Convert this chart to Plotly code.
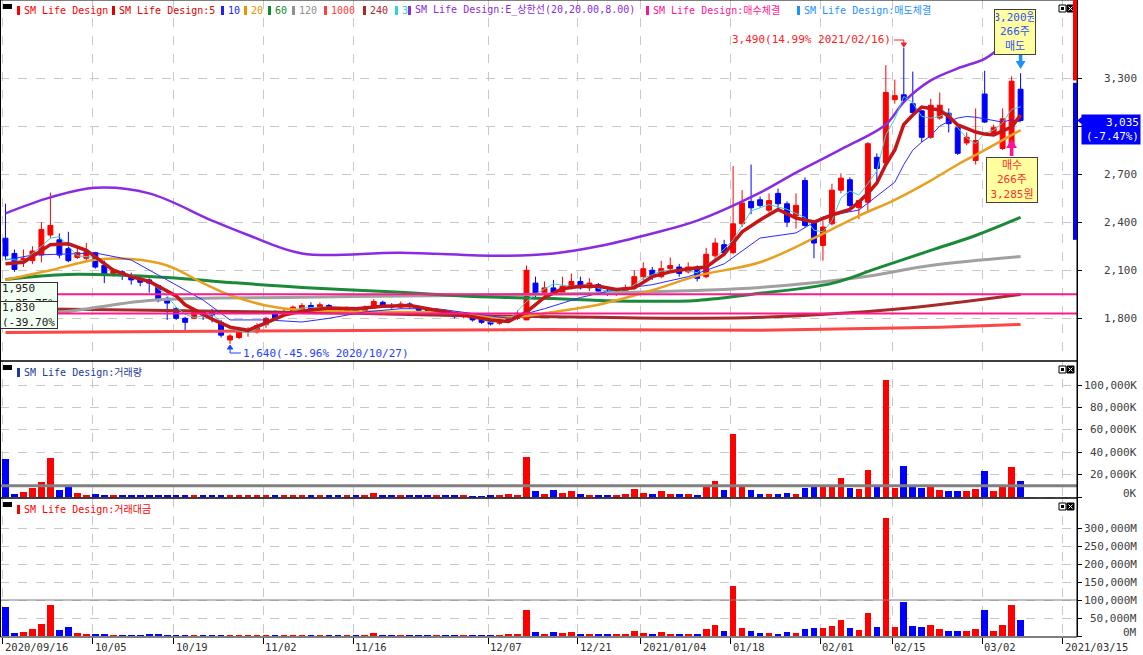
import plotly.graph_objects as go

# ---------------- DATA ----------------
dates = [
    "2020/09/16", "2020/09/17", "2020/09/18", "2020/09/21", "2020/09/22", "2020/09/23", "2020/09/24", "2020/09/25", "2020/09/28", "2020/09/29",
    "2020/10/05", "2020/10/06", "2020/10/07", "2020/10/08", "2020/10/12", "2020/10/13", "2020/10/14", "2020/10/15", "2020/10/16", "2020/10/19",
    "2020/10/20", "2020/10/21", "2020/10/22", "2020/10/23", "2020/10/26", "2020/10/27", "2020/10/28", "2020/10/29", "2020/10/30",
    "2020/11/02", "2020/11/03", "2020/11/04", "2020/11/05", "2020/11/06", "2020/11/09", "2020/11/10", "2020/11/11", "2020/11/12", "2020/11/13",
    "2020/11/16", "2020/11/17", "2020/11/18", "2020/11/19", "2020/11/20", "2020/11/23", "2020/11/24", "2020/11/25", "2020/11/26", "2020/11/27", "2020/11/30",
    "2020/12/01", "2020/12/02", "2020/12/03", "2020/12/04", "2020/12/07", "2020/12/08", "2020/12/09", "2020/12/10", "2020/12/11", "2020/12/14",
    "2020/12/15", "2020/12/16", "2020/12/17", "2020/12/18", "2020/12/21", "2020/12/22", "2020/12/23", "2020/12/24", "2020/12/28", "2020/12/29", "2020/12/30",
    "2021/01/04", "2021/01/05", "2021/01/06", "2021/01/07", "2021/01/08", "2021/01/11", "2021/01/12", "2021/01/13", "2021/01/14", "2021/01/15",
    "2021/01/18", "2021/01/19", "2021/01/20", "2021/01/21", "2021/01/22", "2021/01/25", "2021/01/26", "2021/01/27", "2021/01/28", "2021/01/29",
    "2021/02/01", "2021/02/02", "2021/02/03", "2021/02/04", "2021/02/05", "2021/02/08", "2021/02/09", "2021/02/10", "2021/02/15", "2021/02/16",
    "2021/02/17", "2021/02/18", "2021/02/19", "2021/02/22", "2021/02/23", "2021/02/24", "2021/02/25", "2021/02/26",
    "2021/03/02", "2021/03/03", "2021/03/04", "2021/03/05", "2021/03/08",
]
future_dates = ["2021/03/09", "2021/03/10", "2021/03/11", "2021/03/12", "2021/03/15"]

opens = [2300, 2205, 2150, 2160, 2195, 2320, 2290, 2235, 2180, 2175,
         2210, 2130, 2080, 2090, 2060, 2050, 2040, 2005, 1925, 1860,
         1800, 1800, 1840, 1840, 1775, 1665, 1680, 1715, 1715, 1760,
         1840, 1835, 1845, 1850, 1880, 1860, 1880, 1860, 1845, 1860,
         1840, 1865, 1900, 1880, 1870, 1890, 1870, 1850, 1830, 1845,
         1825, 1810, 1815, 1795, 1780, 1770, 1790, 1800, 1790, 2020,
         1950, 1990, 1960, 1990, 2030, 1990, 2010, 1970, 1950, 1960,
         1990, 2060, 2100, 2060, 2110, 2120, 2090, 2120, 2060, 2190,
         2260, 2210, 2390, 2530, 2540, 2475, 2580, 2515, 2440, 2660,
         2400, 2255, 2390, 2600, 2665, 2490, 2525, 2805, 2770, 3165,
         3195, 3140, 3095, 2930, 3050, 3080, 2990, 2895, 2785, 3200,
         2955, 2860, 2880, 3230]
highs = [2515, 2230, 2230, 2250, 2400, 2585, 2330, 2340, 2240, 2270,
         2215, 2160, 2110, 2100, 2085, 2060, 2050, 2010, 1935, 1870,
         1810, 1850, 1845, 1860, 1790, 1700, 1730, 1745, 1770, 1810,
         1850, 1860, 1880, 1895, 1900, 1900, 1890, 1870, 1875, 1870,
         1880, 1920, 1910, 1895, 1905, 1900, 1880, 1860, 1860, 1855,
         1835, 1830, 1825, 1800, 1790, 1800, 1820, 1850, 2130, 2060,
         2030, 2040, 2060, 2080, 2060, 2050, 2020, 1990, 1990, 2010,
         2100, 2150, 2120, 2160, 2180, 2140, 2150, 2130, 2240, 2300,
         2290, 2750, 2600, 2760, 2560, 2580, 2610, 2530, 2580, 2680,
         2410, 2410, 2640, 2705, 2680, 2540, 2900, 2830, 3380, 3290,
         3490, 3340, 3100, 3170, 3210, 3110, 3000, 2960, 3110, 3345,
         3010, 3110, 3310, 3330]
lows = [2165, 2090, 2120, 2140, 2150, 2300, 2175, 2150, 2170, 2160,
        2110, 2020, 2060, 2040, 2010, 2000, 1960, 1900, 1790, 1790,
        1725, 1795, 1790, 1775, 1680, 1640, 1670, 1685, 1705, 1740,
        1795, 1820, 1830, 1840, 1850, 1850, 1845, 1835, 1840, 1830,
        1835, 1860, 1870, 1860, 1860, 1860, 1840, 1820, 1820, 1815,
        1800, 1800, 1780, 1765, 1755, 1760, 1780, 1790, 1790, 1920,
        1930, 1950, 1950, 1980, 1980, 1970, 1950, 1940, 1940, 1950,
        1980, 2040, 2040, 2050, 2090, 2060, 2080, 2030, 2050, 2170,
        2190, 2200, 2370, 2450, 2490, 2460, 2490, 2370, 2360, 2370,
        2175, 2160, 2380, 2580, 2490, 2420, 2460, 2640, 2750, 3140,
        3150, 3075, 2900, 2920, 3040, 2960, 2820, 2880, 2760, 3020,
        2940, 2850, 2860, 3030]
closes = [2190, 2105, 2175, 2220, 2355, 2380, 2195, 2160, 2210, 2215,
          2120, 2075, 2095, 2070, 2040, 2025, 2020, 1910, 1895, 1800,
          1775, 1840, 1820, 1820, 1695, 1690, 1715, 1725, 1755, 1800,
          1800, 1840, 1870, 1880, 1860, 1885, 1855, 1845, 1860, 1840,
          1870, 1905, 1880, 1870, 1890, 1875, 1850, 1830, 1845, 1825,
          1810, 1820, 1790, 1775, 1765, 1790, 1800, 1820, 2100, 1950,
          1990, 1960, 2000, 2030, 1990, 2020, 1970, 1950, 1970, 1990,
          2060, 2110, 2060, 2110, 2130, 2080, 2120, 2050, 2200, 2270,
          2210, 2390, 2520, 2490, 2505, 2535, 2515, 2400, 2505, 2380,
          2270, 2370, 2600, 2675, 2505, 2535, 2890, 2735, 3210, 3190,
          3160, 3085, 2930, 3130, 3130, 3015, 2830, 2930, 2910, 3025,
          2990, 3045, 3280, 3035]

volume_k = [34000, 2700, 4500, 8000, 13400, 34800, 6200, 9800, 3600, 1800,
            2700, 1800, 1200, 1200, 1200, 1200, 1500, 1500, 1300, 900,
            1200, 1400, 1100, 1100, 1300, 1200, 1200, 1100, 1200, 1300,
            1100, 900, 1200, 1000, 1000, 1100, 1100, 1000, 1000, 900,
            1200, 4000, 1300, 1000, 1000, 900, 1000, 900, 1200, 1000,
            900, 900, 800, 800, 1000, 1200, 2500, 2000, 36000, 5000,
            3000, 6000, 3500, 5000, 3000, 2000, 1500, 1500, 2000, 3000,
            7000, 3500, 3000, 5000, 3000, 2500, 2500, 2000, 9000, 14000,
            6000, 56000, 9000, 6000, 3000, 3000, 2500, 4000, 3000, 8000,
            9000, 10000, 11000, 17000, 8000, 7000, 24000, 9000, 104500, 8000,
            28000, 9000, 8000, 10000, 6000, 5000, 5000, 5000, 7000, 23000,
            5000, 10000, 27000, 14000]
amount_m = [80500, 8300, 11000, 19400, 33000, 86000, 16700, 25000, 9000, 5500,
            6000, 4000, 2500, 2500, 2500, 2500, 3000, 3000, 2500, 1700,
            2200, 2500, 2000, 2000, 2200, 2000, 2000, 1900, 2100, 2300,
            2000, 1700, 2200, 1900, 1900, 2000, 2000, 1900, 1900, 1700,
            2200, 7500, 2400, 1900, 1900, 1700, 1900, 1700, 2200, 1800,
            1600, 1600, 1400, 1400, 1800, 2100, 4500, 3600, 72000, 10000,
            6000, 12000, 7000, 10000, 6000, 4000, 3000, 3000, 4000, 6000,
            14500, 7400, 6200, 10500, 6400, 5200, 5300, 4200, 19000, 31000,
            13500, 140000, 22000, 15000, 7500, 7500, 6400, 10000, 7400, 20000,
            21000, 23000, 27000, 45000, 21000, 17500, 65000, 25000, 328000, 25000,
            95000, 28000, 24000, 30000, 19000, 15000, 14500, 14500, 20000, 72000,
            15000, 30000, 86000, 44000]

# moving averages: (candle index, value)
ma3_idx = [0, 2, 4, 5, 6, 8, 10, 12, 14, 16, 17, 18, 19, 20, 21, 23, 24, 25, 27, 29, 31, 33, 36, 39, 42, 45, 48, 51, 54, 56, 58, 59, 61, 63, 65, 67, 69, 71, 73, 75, 77, 79, 81, 83, 85, 87, 89, 90, 91, 92, 93, 94, 95, 96, 97, 98, 99, 100, 101, 102, 103, 104, 105, 106, 107, 108, 109, 110, 111, 112, 113]
ma3_val = [2170, 2160, 2250, 2300, 2310, 2190, 2180, 2095, 2070, 2030, 1985, 1940, 1870, 1825, 1805, 1825, 1780, 1735, 1710, 1760, 1815, 1865, 1870, 1850, 1880, 1880, 1840, 1830, 1775, 1785, 1905, 1950, 2015, 2000, 2010, 1965, 1970, 2050, 2095, 2105, 2085, 2175, 2290, 2470, 2510, 2480, 2430, 2350, 2340, 2410, 2550, 2595, 2570, 2640, 2720, 2945, 3045, 3185, 3145, 3060, 3050, 3060, 3090, 2990, 2925, 2890, 2955, 2975, 3020, 3105, 3120]
ma5_idx = [0, 2, 5, 7, 9, 12, 14, 16, 19, 20, 23, 25, 27, 29, 31, 33, 36, 39, 42, 45, 48, 51, 54, 56, 58, 60, 62, 64, 66, 68, 70, 72, 74, 76, 78, 80, 82, 84, 86, 88, 90, 92, 94, 95, 96, 97, 98, 99, 100, 101, 102, 103, 104, 105, 106, 107, 108, 109, 110, 111, 112, 113]
ma5_val = [2140, 2150, 2260, 2265, 2225, 2100, 2060, 2030, 1940, 1885, 1795, 1745, 1725, 1770, 1820, 1845, 1865, 1860, 1875, 1880, 1850, 1825, 1790, 1780, 1840, 1930, 1985, 2000, 2000, 1980, 1990, 2060, 2090, 2110, 2120, 2200, 2340, 2414, 2480, 2426, 2401, 2445, 2480, 2526, 2580, 2645, 2760, 2851, 3010, 3069, 3119, 3110, 3100, 3060, 3007, 2985, 2963, 2950, 2944, 2970, 2994, 3069]
ma10_idx = [0, 3, 7, 10, 14, 18, 22, 25, 29, 33, 36, 40, 44, 48, 52, 56, 60, 64, 68, 72, 76, 80, 84, 88, 91, 95, 99, 100, 101, 102, 103, 104, 105, 106, 107, 108, 109, 110, 111, 112, 113]
ma10_val = [2164, 2195, 2202, 2208, 2164, 2039, 1914, 1790, 1790, 1777, 1800, 1840, 1860, 1860, 1830, 1800, 1860, 1930, 1980, 2010, 2060, 2140, 2301, 2333, 2433, 2476, 2650, 2760, 2850, 2900, 2940, 3000, 3030, 3050, 3060, 3055, 3045, 3035, 3025, 3040, 3025]
ma20_idx = [0, 5, 10, 14, 18, 22, 25, 29, 31, 36, 44, 50, 55, 58, 61, 66, 72, 77, 84, 90, 95, 99, 103, 106, 109, 113]
ma20_val = [2040, 2100, 2165, 2170, 2130, 2020, 1945, 1880, 1862, 1845, 1840, 1835, 1805, 1815, 1840, 1885, 1975, 2065, 2150, 2300, 2440, 2540, 2660, 2760, 2850, 2975]
ma60_idx = [0, 7, 18, 25, 33, 44, 50, 55, 61, 66, 72, 77, 84, 92, 97, 103, 108, 113]
ma60_val = [2043, 2074, 2055, 2024, 1993, 1962, 1943, 1931, 1924, 1912, 1906, 1912, 1956, 2018, 2112, 2224, 2317, 2430]
ma120_idx = [0, 6, 16, 33, 50, 66, 77, 84, 95, 103, 113]
ma120_val = [1830, 1837, 1912, 1931, 1943, 1956, 1974, 1993, 2055, 2130, 2186]
ma240_idx = [0, 16, 33, 50, 66, 77, 84, 99, 113]
ma240_val = [1862, 1850, 1837, 1818, 1806, 1800, 1806, 1856, 1949]
ma1000_idx = [0, 30, 60, 84, 104, 113]
ma1000_val = [1712, 1720, 1730, 1725, 1744, 1762]
env_idx = [0, 5, 10, 16, 23, 27, 33, 44, 55, 61, 66, 72, 77, 84, 88, 93, 98, 100, 103, 106, 109, 111, 113]
env_val = [2455, 2555, 2615, 2580, 2410, 2320, 2205, 2210, 2190, 2205, 2250, 2330, 2410, 2585, 2710, 2855, 3010, 3150, 3285, 3360, 3420, 3500, 3575]

price_levels = [1950, 1830]
vol_ref_k = 10000
amount_ref_m = 100000
buy_price, sell_price, trade_qty = 3285, 3200, 266
buy_idx, sell_idx = 112, 113

tick_dates = ["2020/09/16", "2020/10/05", "2020/10/19", "2020/11/02", "2020/11/16", "2020/12/07",
              "2020/12/21", "2021/01/04", "2021/01/18", "2021/02/01", "2021/02/15", "2021/03/02", "2021/03/15"]
tick_labels = ["2020/09/16", "10/05", "10/19", "11/02", "11/16", "12/07",
               "12/21", "2021/01/04", "01/18", "02/01", "02/15", "03/02", "2021/03/15"]
price_ticks = [1800, 2100, 2400, 2700, 3000, 3300]
vol_ticks = [0, 20000, 40000, 60000, 80000, 100000]
amt_ticks = [0, 50000, 100000, 150000, 200000, 250000, 300000]

# ---------------- LAYOUT HELPERS ----------------
W, H = 1143, 655
PR = 1077  # right edge of plot area in px
FONT = "DejaVu Sans Mono, Noto Sans CJK KR, monospace"
RED, BLUE = "#ff0000", "#0000ff"

def fx(px):
    return px / W

def fy(py):
    return 1 - py / H

all_dates = dates + future_dates
xs = list(range(len(dates)))
tick_pos = [all_dates.index(d) - 0.28 for d in tick_dates]
XR = [-0.61, 119.28]

fig = go.Figure()

# candles
fig.add_trace(go.Candlestick(
    x=xs, open=opens, high=highs, low=lows, close=closes,
    increasing=dict(line=dict(color=RED, width=1), fillcolor=RED),
    decreasing=dict(line=dict(color=BLUE, width=1), fillcolor=BLUE),
    whiskerwidth=0, showlegend=False, hoverinfo="skip", xaxis="x", yaxis="y"))

def line(xv, yv, color, width, shape="linear"):
    fig.add_trace(go.Scatter(x=xv, y=yv, mode="lines", line=dict(color=color, width=width, shape=shape),
                             showlegend=False, hoverinfo="skip", xaxis="x", yaxis="y"))

line(ma1000_idx, ma1000_val, "#ff4646", 3)
line(ma240_idx, ma240_val, "#a52a2a", 3, "spline")
line(ma120_idx, ma120_val, "#a0a0a0", 3, "spline")
line(ma60_idx, ma60_val, "#1a8a3a", 3, "spline")
line(ma20_idx, ma20_val, "#e8a020", 2.5, "spline")
line(env_idx, env_val, "#8a2be2", 2.5, "spline")
line(ma10_idx, ma10_val, "#2b2bff", 1)
line(ma3_idx, ma3_val, "#3fd0d0", 1)
line(ma5_idx, ma5_val, "#c41616", 3.5)

for lv in price_levels:
    fig.add_trace(go.Scatter(x=XR, y=[lv, lv], mode="lines", line=dict(color="#ff1a8c", width=2),
                             showlegend=False, hoverinfo="skip", xaxis="x", yaxis="y"))

bar_colors = [RED if c >= o else BLUE for o, c in zip(opens, closes)]
fig.add_trace(go.Bar(x=xs, y=volume_k, marker=dict(color=bar_colors, line=dict(width=0)), width=0.74,
                     showlegend=False, hoverinfo="skip", xaxis="x2", yaxis="y2"))
fig.add_trace(go.Scatter(x=XR, y=[vol_ref_k, vol_ref_k], mode="lines", line=dict(color="#808080", width=3),
                         showlegend=False, hoverinfo="skip", xaxis="x2", yaxis="y2"))
fig.add_trace(go.Bar(x=xs, y=amount_m, marker=dict(color=bar_colors, line=dict(width=0)), width=0.74,
                     showlegend=False, hoverinfo="skip", xaxis="x3", yaxis="y3"))
fig.add_trace(go.Scatter(x=XR, y=[amount_ref_m, amount_ref_m], mode="lines", line=dict(color="#808080", width=1),
                         showlegend=False, hoverinfo="skip", xaxis="x3", yaxis="y3"))

# panels: px (top, bottom)
P_MAIN, P_VOL, P_AMT = (0, 361), (361, 498), (498, 637)
MAIN_R = [3787 - 6.242 * 361, 3787]
VOL_R = [-893, 893 * (497 - 361)]
AMT_R = [-2778, 2777.8 * (636 - 498)]

xcommon = dict(range=XR, tickvals=tick_pos, showticklabels=False, showgrid=True, griddash="dash",
               gridcolor="#c8c8c8", gridwidth=1, zeroline=False, domain=[0, fx(PR)], fixedrange=True)
ycommon = dict(side="right", showgrid=True, griddash="dash", gridcolor="#c8c8c8", gridwidth=1,
               zeroline=False, showline=True, linecolor="#000", linewidth=1, ticks="outside",
               ticklen=4, tickcolor="#000", showticklabels=False, fixedrange=True)

fig.update_layout(
    width=W, height=H, margin=dict(l=0, r=0, t=0, b=0),
    paper_bgcolor="white", plot_bgcolor="white", showlegend=False, bargap=0, boxgap=0.22,
    xaxis=dict(**xcommon, anchor="y", rangeslider=dict(visible=False)),
    xaxis2=dict(**xcommon, anchor="y2", matches="x"),
    xaxis3=dict(**xcommon, anchor="y3", matches="x", ticks="outside", ticklen=6, tickcolor="#000"),
    yaxis=dict(**ycommon, domain=[fy(P_MAIN[1]), fy(P_MAIN[0])], range=MAIN_R, tickvals=price_ticks, anchor="x"),
    yaxis2=dict(**ycommon, domain=[fy(P_VOL[1]), fy(P_VOL[0])], range=VOL_R, tickvals=vol_ticks, anchor="x2"),
    yaxis3=dict(**ycommon, domain=[fy(P_AMT[1]), fy(P_AMT[0])], range=AMT_R, tickvals=amt_ticks, anchor="x3"),
)

shapes = []
annotations = []

# panel frames
for top, bot in (P_MAIN, P_VOL, P_AMT):
    shapes.append(dict(type="rect", xref="paper", yref="paper", x0=fx(0.5), x1=fx(PR), y0=fy(bot), y1=fy(top),
                       line=dict(color="#000", width=1), layer="above"))
    shapes.append(dict(type="rect", xref="paper", yref="paper", x0=fx(3), x1=fx(12), y0=fy(top + 9), y1=fy(top + 4),
                       fillcolor="#000", line=dict(width=0)))
    shapes.append(dict(type="rect", xref="paper", yref="paper", x0=fx(1059), x1=fx(1066), y0=fy(top + 12), y1=fy(top + 5),
                       fillcolor="white", line=dict(color="#000", width=1)))
    shapes.append(dict(type="rect", xref="paper", yref="paper", x0=fx(1061), x1=fx(1064), y0=fy(top + 10), y1=fy(top + 7),
                       fillcolor="#000", line=dict(width=0)))
    shapes.append(dict(type="rect", xref="paper", yref="paper", x0=fx(1067), x1=fx(1074), y0=fy(top + 12), y1=fy(top + 5),
                       fillcolor="#000", line=dict(color="#000", width=1)))
    shapes.append(dict(type="path", xref="paper", yref="paper",
                       path=f"M {fx(1068.5)},{fy(top + 6.5)} L {fx(1072.5)},{fy(top + 10.5)} M {fx(1072.5)},{fy(top + 6.5)} L {fx(1068.5)},{fy(top + 10.5)}",
                       line=dict(color="white", width=1)))

# right-edge price bar
shapes.append(dict(type="rect", xref="paper", yref="y", x0=fx(1073), x1=fx(1077), y0=buy_price, y1=MAIN_R[1],
                   fillcolor="#ff0000", line=dict(width=0), layer="above"))
shapes.append(dict(type="rect", xref="paper", yref="y", x0=fx(1073), x1=fx(1077), y0=2290, y1=buy_price - 15,
                   fillcolor="#0000ff", line=dict(width=0), layer="above"))

# legend rows
def legend_item(px_x, py, text, color):
    shapes.append(dict(type="rect", xref="paper", yref="paper", x0=fx(px_x), x1=fx(px_x + 3), y0=fy(py + 5), y1=fy(py - 4),
                       fillcolor=color, line=dict(width=0)))
    annotations.append(dict(xref="paper", yref="paper", x=fx(px_x + 5), y=fy(py), xanchor="left", yanchor="middle",
                            text=text, showarrow=False, font=dict(family=FONT, size=10, color=color)))

legend_main = [
    (17, "SM Life Design", "#ff0000"), (112, "SM Life Design:5", "#e00000"), (221, "10", "#2020ff"),
    (244, "20", "#e69500"), (268, "60", "#108a30"), (292, "120", "#909090"), (324, "1000", "#ff4040"),
    (363, "240", "#a52a2a"), (395, "3", "#30d8d0"), (408, "SM Life Design:E_상한선(20,20.00,8.00)", "#8a2be2"),
    (646, "SM Life Design:매수체결", "#ff1493"), (797, "SM Life Design:매도체결", "#1e90ff"),
]
for px_x, t, c in legend_main:
    legend_item(px_x, 10, t, c)
legend_item(17, 372, "SM Life Design:거래량", "#1a3a9a")
legend_item(17, 509, "SM Life Design:거래대금", "#ff0000")

# right tick labels
for v in price_ticks:
    if v == 3000:
        continue
    annotations.append(dict(xref="paper", yref="y", x=fx(1139), y=v, xanchor="right", yanchor="middle",
                            text=f"{v:,}", showarrow=False, font=dict(family=FONT, size=11, color="#404040")))
for v in vol_ticks:
    annotations.append(dict(xref="paper", yref="y2", x=fx(1139), y=v, xanchor="right", yanchor="middle",
                            text=f"{v:,}K", showarrow=False, font=dict(family=FONT, size=11, color="#404040"),
                            yshift=4 if v == 0 else 0))
for v in amt_ticks:
    annotations.append(dict(xref="paper", yref="y3", x=fx(1139), y=v, xanchor="right", yanchor="middle",
                            text=f"{v:,}M", showarrow=False, font=dict(family=FONT, size=11, color="#404040"),
                            yshift=4 if v == 0 else 0))

# date labels
for pos, lab in zip(tick_pos, tick_labels):
    annotations.append(dict(xref="x3", yref="paper", x=pos, y=fy(639), xanchor="left", yanchor="top",
                            text=lab, showarrow=False, font=dict(family=FONT, size=10.5, color="#303030")))

# current price box
last_close, prev_close = closes[-1], closes[-2]
chg = (last_close / prev_close - 1) * 100
annotations.append(dict(xref="paper", yref="paper", x=fx(1141), y=fy(114), xanchor="right", yanchor="top",
                        text=f"{last_close:,}<br>({chg:.2f}%)", showarrow=False, align="right",
                        bgcolor="#0000ff", font=dict(family=FONT, size=11, color="white"), borderpad=1, width=56))
shapes.append(dict(type="path", xref="paper", yref="y",
                   path=f"M {fx(1077)},{last_close} L {fx(1083)},{last_close + 28} L {fx(1083)},{last_close - 28} Z",
                   fillcolor="#0000ff", line=dict(width=0), layer="above"))

# level boxes at left
for lv, top_px in zip(price_levels, (282, 301)):
    pct = (lv / last_close - 1) * 100
    annotations.append(dict(xref="paper", yref="paper", x=fx(0), y=fy(top_px), xanchor="left", yanchor="top",
                            text=f"{lv:,}<br>({pct:.2f}%)", showarrow=False, align="left",
                            bgcolor="#f4fff4", bordercolor="#303030", borderwidth=1, borderpad=1,
                            font=dict(family=FONT, size=11, color="#202020"), width=54, height=24))

# max / min annotations
hi_i = max(range(len(highs)), key=lambda i: highs[i])
lo_i = min(range(len(lows)), key=lambda i: lows[i])
hi_pct = (highs[hi_i] / last_close - 1) * 100
lo_pct = (lows[lo_i] / last_close - 1) * 100
annotations.append(dict(xref="x", yref="paper", x=hi_i - 1.2, y=fy(40), xanchor="right", yanchor="middle",
                        text=f"{highs[hi_i]:,}({hi_pct:.2f}% {dates[hi_i]})", showarrow=False,
                        font=dict(family=FONT, size=11, color="#ff2020")))
shapes.append(dict(type="path", xref="x", yref="paper",
                   path=f"M {hi_i - 1.1},{fy(40)} L {hi_i},{fy(40)} L {hi_i},{fy(46)}",
                   line=dict(color="#ff2020", width=1)))
shapes.append(dict(type="path", xref="x", yref="paper",
                   path=f"M {hi_i - 0.3},{fy(43)} L {hi_i + 0.3},{fy(43)} L {hi_i},{fy(47)} Z",
                   fillcolor="#ff2020", line=dict(color="#ff2020", width=1)))
annotations.append(dict(xref="x", yref="paper", x=lo_i + 1.25, y=fy(353), xanchor="left", yanchor="middle",
                        text=f"{lows[lo_i]:,}({lo_pct:.2f}% {dates[lo_i]})", showarrow=False,
                        font=dict(family=FONT, size=11, color="#1e40ff")))
shapes.append(dict(type="path", xref="x", yref="paper",
                   path=f"M {lo_i},{fy(346)} L {lo_i},{fy(353)} L {lo_i + 1.2},{fy(353)}",
                   line=dict(color="#1e40ff", width=1)))
shapes.append(dict(type="path", xref="x", yref="paper",
                   path=f"M {lo_i - 0.3},{fy(349)} L {lo_i + 0.3},{fy(349)} L {lo_i},{fy(345)} Z",
                   fillcolor="#1e40ff", line=dict(color="#1e40ff", width=1)))

# trade boxes
annotations.append(dict(xref="paper", yref="paper", x=fx(1015), y=fy(9), xanchor="center", yanchor="top",
                        text=f"{sell_price:,}원<br>{trade_qty}주<br>매도", showarrow=False, align="center",
                        bgcolor="#ffffa0", bordercolor="#404040", borderwidth=1, borderpad=1,
                        font=dict(family=FONT, size=11, color="#3050ff"), width=38))
annotations.append(dict(xref="paper", yref="paper", x=fx(1012), y=fy(157), xanchor="center", yanchor="top",
                        text=f"매수<br>{trade_qty}주<br>{buy_price:,}원", showarrow=False, align="center",
                        bgcolor="#ffffa0", bordercolor="#404040", borderwidth=1, borderpad=1,
                        font=dict(family=FONT, size=11, color="#ff3030"), width=48))
sx = sell_idx
shapes.append(dict(type="path", xref="x", yref="paper",
                   path=f"M {sx - 0.2},{fy(53)} L {sx + 0.2},{fy(53)} L {sx + 0.2},{fy(61)} L {sx + 0.55},{fy(61)} L {sx},{fy(69)} L {sx - 0.55},{fy(61)} L {sx - 0.2},{fy(61)} Z",
                   fillcolor="#1e90ff", line=dict(width=0), layer="above"))
bx = buy_idx
shapes.append(dict(type="path", xref="x", yref="paper",
                   path=f"M {bx - 0.2},{fy(156)} L {bx + 0.2},{fy(156)} L {bx + 0.2},{fy(148)} L {bx + 0.6},{fy(148)} L {bx},{fy(139)} L {bx - 0.6},{fy(148)} L {bx - 0.2},{fy(148)} Z",
                   fillcolor="#ff1493", line=dict(width=0), layer="above"))

fig.update_layout(shapes=shapes, annotations=annotations)
fig.write_html("out.html")
